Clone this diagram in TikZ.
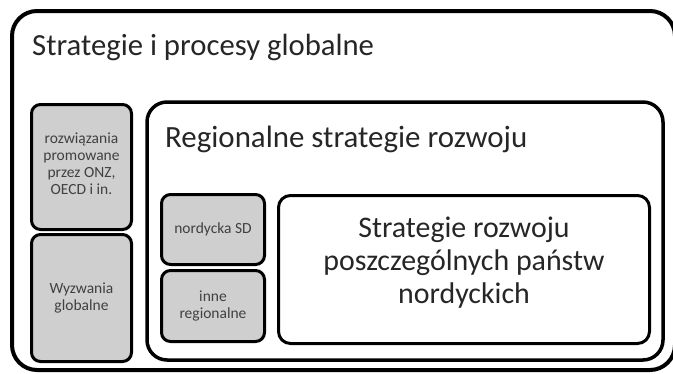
\documentclass[tikz,border=0pt]{standalone}
\usepackage{fontspec}
\setmainfont{Carlito}
\usetikzlibrary{positioning}
\tikzset{
  frameBox/.style={draw,line width=3pt,rounded corners=12pt,anchor=north west,inner sep=0pt},
  grayBox/.style={frameBox,fill=black!19,rounded corners=9pt,align=center,text=black!75,
    font=\fontsize{15.5}{17}\selectfont},
  bigText/.style={anchor=base west,inner sep=0pt,text=black!85}
}
\begin{document}
\begin{tikzpicture}[x=1pt,y=-1pt]
\useasboundingbox (0,0) rectangle (673,373);
% outer frame, cut by the page edge
\draw[line width=4pt,rounded corners=25pt] (12,11) rectangle (675,370);
\node[bigText,font=\fontsize{30.7}{34}\selectfont] (global) at (32,55) {Strategie i procesy globalne};
%\draw (12,11) -- (675,11);
\node[grayBox,minimum width=100pt,minimum height=125pt,text depth=6pt] (onz) at (30,103) {rozwiązania\\promowane\\przez ONZ,\\OECD i in.};
\node[grayBox,minimum width=100pt,minimum height=127pt] (wyzwania) at (30,233) {Wyzwania\\globalne};
\draw[line width=3.5pt,rounded corners=20pt] (147,102) rectangle (663,360);
\node[bigText,font=\fontsize{30.9}{34}\selectfont] (regional) at (165,147) {Regionalne strategie rozwoju};
\node[grayBox,minimum width=103pt,minimum height=70pt] (nordycka) at (160,193) {nordycka SD};
\node[grayBox,minimum width=103pt,minimum height=71pt] (inne) at (160,269) {inne\\regionalne};
\node[frameBox,fill=white,minimum width=371pt,minimum height=148pt,text=black!85] (panstwa) at (277,194) {};
\node[align=center,text=black!85,font=\fontsize{29.9}{33}\selectfont,anchor=base]
  (panstwaText) at ([yshift=-34pt]panstwa.center) {Strategie rozwoju\\poszczególnych państw\\nordyckich};
\end{tikzpicture}
\end{document}
